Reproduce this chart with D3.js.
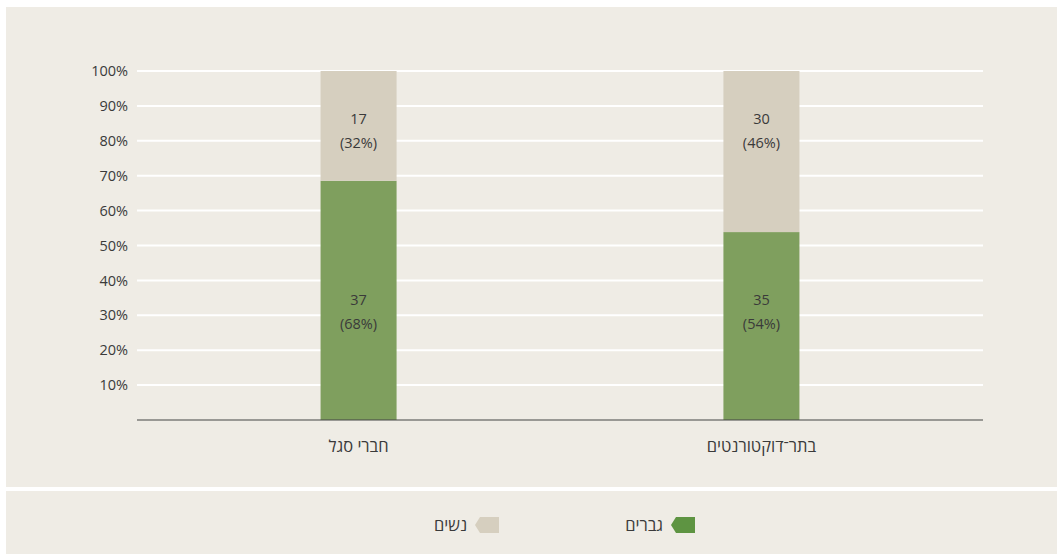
<!DOCTYPE html>
<html>
<head>
<meta charset="utf-8">
<script src="https://cdn.jsdelivr.net/npm/d3@7"></script>
<style>
  body { margin: 0; background: #fff; }
  svg { display: block; font-family: "Open Sans", "DejaVu Sans", sans-serif; }
</style>
</head>
<body>
<div id="chart"></div>
<script>
const categories = ["חברי סגל", "בתר־דוקטורנטים"];
const men = [37, 35];
const women = [17, 30];
const menPct = ["68%", "54%"];
const womenPct = ["32%", "46%"];
const yTicks = [0.1, 0.2, 0.3, 0.4, 0.5, 0.6, 0.7, 0.8, 0.9, 1];
const legendLabels = ["גברים", "נשים"];

const W = 1057, H = 554;
const GREEN = "#7f9f5e", BEIGE = "#d6cfbf", BG = "#efece5", TEXT = "#3a3a3a";

const svg = d3.select("#chart").append("svg")
    .attr("width", W)
    .attr("height", H);

// panels
svg.append("rect").attr("x", 6).attr("y", 7).attr("width", W - 6).attr("height", 480).attr("fill", BG);
svg.append("rect").attr("x", 6).attr("y", 491).attr("width", W - 6).attr("height", H - 491).attr("fill", BG);

const x = d3.scalePoint()
    .domain(categories)
    .range([137, 983])
    .padding(0.55);

const y = d3.scaleLinear()
    .domain([0, 1])
    .range([420, 71]);

// gridlines
svg.append("g")
    .selectAll("line")
    .data(yTicks)
    .join("line")
    .attr("x1", 137).attr("x2", 983)
    .attr("y1", d => y(d)).attr("y2", d => y(d))
    .attr("stroke", "#fff")
    .attr("stroke-width", 2);

// y axis labels
const yAxis = svg.append("g")
    .attr("transform", "translate(137,0)")
    .call(d3.axisLeft(y).tickValues(yTicks).tickFormat(d3.format(".0%")).tickSize(0).tickPadding(9));
yAxis.select(".domain").remove();
yAxis.selectAll("text")
    .attr("fill", TEXT)
    .style("font-size", "14.5px")
    .style("font-family", "'Open Sans', sans-serif");

const rows = categories.map((c, i) => {
    const total = men[i] + women[i];
    return { cat: c, m: men[i] / total, w: women[i] / total, i };
});

const barW = 76;
const bars = svg.append("g");

bars.selectAll("rect.men")
    .data(rows)
    .join("rect")
    .attr("class", "men")
    .attr("x", d => x(d.cat) - barW / 2)
    .attr("width", barW)
    .attr("y", d => y(d.m))
    .attr("height", d => y(0) - y(d.m))
    .attr("fill", GREEN);

bars.selectAll("rect.women")
    .data(rows)
    .join("rect")
    .attr("class", "women")
    .attr("x", d => x(d.cat) - barW / 2)
    .attr("width", barW)
    .attr("y", y(1))
    .attr("height", d => y(d.m) - y(1))
    .attr("fill", BEIGE);

// value labels
function addLabels(vals, pcts, pos) {
    const g = bars.append("g");
    rows.forEach((d, i) => {
        const t = g.append("text")
            .attr("x", x(d.cat))
            .attr("y", y(pos))
            .attr("text-anchor", "middle")
            .attr("fill", TEXT)
            .style("font-size", "14.5px");
        t.append("tspan").attr("x", x(d.cat)).attr("dy", "-0.45em").text(vals[i]);
        t.append("tspan").attr("x", x(d.cat)).attr("dy", "1.65em").text("(" + pcts[i] + ")");
    });
}
addLabels(men, menPct, 0.31);
addLabels(women, womenPct, 0.83);

// baseline
svg.append("line")
    .attr("x1", 137).attr("x2", 983)
    .attr("y1", y(0)).attr("y2", y(0))
    .attr("stroke", "#444")
    .attr("stroke-width", 1.2);

// category labels
svg.append("g")
    .selectAll("text")
    .data(categories)
    .join("text")
    .attr("x", d => x(d))
    .attr("y", 451.5)
    .attr("text-anchor", "middle")
    .attr("fill", TEXT)
    .style("font-size", "16.5px")
    .text(d => d);

// legend
const legendColors = ["#5e9442", BEIGE];
const legendX = [695, 499];
const lg = svg.append("g");
legendLabels.forEach((lab, i) => {
    const r = legendX[i];
    lg.append("path")
        .attr("d", `M${r},517 L${r - 19},517 L${r - 24},525 L${r - 19},533 L${r},533 Z`)
        .attr("fill", legendColors[i]);
    lg.append("text")
        .attr("x", r - 32)
        .attr("y", 531)
        .attr("text-anchor", "end")
        .attr("fill", TEXT)
        .style("font-size", "16.5px")
        .text(lab);
});
</script>
</body>
</html>
